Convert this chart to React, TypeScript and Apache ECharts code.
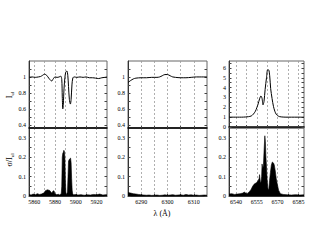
import React, { useEffect, useRef } from "react";
import * as echarts from "echarts";

// ---- Panel 1: Na D region ----
const naWave = [5855, 5858, 5861, 5864, 5866, 5868, 5870, 5872, 5874, 5876, 5877, 5878, 5880, 5882, 5884, 5885.5, 5886.5, 5887, 5887.5, 5888, 5888.7, 5889.5, 5890.3, 5891.4, 5892.3, 5893, 5893.8, 5894.8, 5895.5, 5896.3, 5897.2, 5898.5, 5901, 5904, 5907, 5910, 5913, 5916, 5919, 5922, 5925, 5928, 5930];
const naFlux = [0.995, 1.0, 0.995, 1.0, 1.005, 1.02, 1.035, 1.02, 0.985, 0.955, 0.95, 0.97, 1.0, 0.995, 1.0, 1.01, 0.97, 0.75, 0.6, 0.66, 0.86, 0.99, 1.06, 1.075, 1.02, 0.88, 0.72, 0.66, 0.72, 0.9, 0.99, 1.0, 0.995, 1.0, 0.995, 1.0, 0.99, 0.99, 0.985, 0.98, 0.99, 0.995, 1.0];
const naSigWave = [5855, 5857, 5859, 5861, 5863, 5865, 5867, 5869, 5870, 5871, 5872, 5873, 5874, 5875, 5876, 5877, 5878, 5879, 5880, 5881, 5882, 5883, 5884, 5885, 5886, 5886.5, 5887, 5887.5, 5888, 5888.5, 5889, 5889.5, 5890, 5890.5, 5891, 5891.5, 5892, 5892.5, 5893, 5893.5, 5894, 5894.5, 5895, 5895.5, 5896, 5896.5, 5897, 5898, 5900, 5902, 5905, 5908, 5911, 5914, 5917, 5920, 5923, 5926, 5929, 5930];
const naSigma = [0.008, 0.005, 0.01, 0.006, 0.012, 0.008, 0.01, 0.015, 0.02, 0.028, 0.03, 0.032, 0.03, 0.028, 0.02, 0.015, 0.025, 0.027, 0.012, 0.008, 0.006, 0.01, 0.005, 0.008, 0.012, 0.05, 0.2, 0.22, 0.225, 0.235, 0.23, 0.2, 0.08, 0.015, 0.008, 0.01, 0.02, 0.1, 0.18, 0.185, 0.19, 0.19, 0.195, 0.17, 0.09, 0.03, 0.01, 0.006, 0.008, 0.005, 0.007, 0.004, 0.006, 0.005, 0.008, 0.006, 0.01, 0.005, 0.007, 0.006];
const naGridLines = [5860, 5870, 5880, 5890, 5900, 5910, 5920];
const naTickLabels = [5860, 5880, 5900, 5920];

// ---- Panel 2: [O I] 6300 region ----
const oiWave = [6285, 6286, 6287, 6288, 6290, 6292, 6294, 6296, 6297, 6298, 6299, 6300, 6301, 6302, 6303, 6305, 6307, 6309, 6311, 6313, 6315];
const oiFlux = [0.93, 0.955, 0.975, 0.985, 0.99, 0.99, 0.995, 0.995, 1.0, 1.015, 1.03, 1.03, 1.015, 1.0, 0.995, 0.99, 0.99, 0.995, 1.0, 1.0, 1.0];
const oiSigWave = [6285, 6286, 6287, 6288, 6289, 6290, 6291, 6292, 6293, 6294, 6295, 6296, 6297, 6298, 6299, 6300, 6301, 6302, 6303, 6304, 6305, 6306, 6307, 6308, 6309, 6310, 6311, 6312, 6313, 6314, 6315];
const oiSigma = [0.018, 0.015, 0.012, 0.01, 0.008, 0.006, 0.005, 0.004, 0.005, 0.003, 0.004, 0.005, 0.003, 0.004, 0.006, 0.004, 0.005, 0.007, 0.004, 0.005, 0.006, 0.004, 0.008, 0.005, 0.006, 0.004, 0.005, 0.003, 0.004, 0.005, 0.004];
const oiGridLines = [6290, 6295, 6300, 6305, 6310];
const oiTickLabels = [6290, 6300, 6310];

// ---- Panel 3: H-alpha region ----
const haWave = [6535, 6538, 6541, 6544, 6547, 6549, 6551, 6552.5, 6554, 6555, 6556, 6557, 6558, 6558.8, 6559.5, 6560.2, 6561, 6562, 6562.8, 6563.5, 6564.3, 6565, 6566, 6567, 6568, 6569, 6570, 6571.5, 6573, 6576, 6580, 6584, 6589];
const haFlux = [1.0, 1.0, 1.0, 1.0, 1.02, 1.05, 1.12, 1.3, 1.6, 1.95, 2.35, 2.85, 3.15, 2.9, 2.25, 2.6, 3.8, 5.0, 5.8, 5.8, 5.2, 3.9, 2.9, 2.1, 1.6, 1.3, 1.15, 1.05, 1.02, 1.0, 1.0, 1.0, 1.0];
const haSigWave = [6535, 6537, 6539, 6541, 6543, 6545, 6546, 6547, 6548, 6549, 6550, 6551, 6552, 6553, 6554, 6555, 6556, 6556.7, 6557, 6557.5, 6558, 6558.5, 6558.8, 6559.3, 6559.8, 6560.3, 6560.8, 6561.2, 6561.6, 6562, 6562.5, 6563, 6563.6, 6564.2, 6564.8, 6565.5, 6566.2, 6567, 6567.6, 6568.3, 6569, 6569.8, 6570.7, 6572, 6574, 6577, 6580, 6583, 6586, 6589];
const haSigma = [0.01, 0.012, 0.008, 0.01, 0.012, 0.015, 0.02, 0.015, 0.012, 0.018, 0.025, 0.035, 0.05, 0.06, 0.065, 0.07, 0.08, 0.09, 0.11, 0.075, 0.07, 0.1, 0.165, 0.14, 0.16, 0.24, 0.31, 0.28, 0.2, 0.15, 0.08, 0.04, 0.03, 0.08, 0.12, 0.16, 0.175, 0.17, 0.16, 0.13, 0.09, 0.06, 0.03, 0.012, 0.008, 0.006, 0.005, 0.007, 0.005, 0.006];
const haGridLines = [6540, 6547.5, 6555, 6562.5, 6570, 6577.5, 6585];
const haTickLabels = [6540, 6555, 6570, 6585];

// ---- y ticks ----
const fluxLabels = [0.4, 0.6, 0.8, 1];
const fluxTicks = [0.4, 0.5, 0.6, 0.7, 0.8, 0.9, 1, 1.1];
const haFluxLabels = [0, 1, 2, 3, 4, 5, 6];
const haFluxTicks = [0, 0.5, 1, 1.5, 2, 2.5, 3, 3.5, 4, 4.5, 5, 5.5, 6, 6.5];
const sigmaLabels = [0, 0.1, 0.2, 0.3];
const sigmaTicks = [0, 0.05, 0.1, 0.15, 0.2, 0.25, 0.3];

const FONT = "'Liberation Serif', 'DejaVu Serif', serif";

export default function App() {
  const ref = useRef<HTMLDivElement>(null);
  useEffect(() => {
    if (!ref.current) return;
    const chart = echarts.init(ref.current, undefined, { renderer: "svg" });

    const panels = [
      { left: 29, width: 78, xMin: 5855, xMax: 5930, grid: naGridLines, labels: naTickLabels,
        w: naWave, f: naFlux, sw: naSigWave, s: naSigma,
        yMin: 0.36, yMax: 1.2, yLabels: fluxLabels, yTicks: fluxTicks },
      { left: 128, width: 79, xMin: 6285, xMax: 6315, grid: oiGridLines, labels: oiTickLabels,
        w: oiWave, f: oiFlux, sw: oiSigWave, s: oiSigma,
        yMin: 0.36, yMax: 1.2, yLabels: fluxLabels, yTicks: fluxTicks },
      { left: 229, width: 75, xMin: 6535, xMax: 6589, grid: haGridLines, labels: haTickLabels,
        w: haWave, f: haFlux, sw: haSigWave, s: haSigma,
        yMin: -0.1, yMax: 6.7, yLabels: haFluxLabels, yTicks: haFluxTicks },
    ];

    const grids: any[] = [];
    const xAxes: any[] = [];
    const yAxes: any[] = [];
    const series: any[] = [];
    const labelStyle = { color: "#000", fontFamily: FONT, fontSize: 6 };
    const plain = (v: number) => String(v);
    const dashed = { show: true, lineStyle: { color: "#9a9a9a", type: [2, 2], width: 0.8 } };

    panels.forEach((p, i) => {
      const gu = 2 * i;
      const gl = 2 * i + 1;
      grids.push({ left: p.left, width: p.width, top: 61, height: 67, show: true, borderColor: "#666", borderWidth: 1, containLabel: false, outerBoundsMode: "none" });
      grids.push({ left: p.left, width: p.width, top: 128, height: 68, show: true, borderColor: "#666", borderWidth: 1, containLabel: false, outerBoundsMode: "none" });

      xAxes.push({
        type: "value", gridIndex: gu, min: p.xMin, max: p.xMax,
        axisLine: { show: true, lineStyle: { color: "#000", width: 1.5 } },
        axisTick: { show: true, inside: true, length: 2, customValues: p.grid, lineStyle: { color: "#444" } },
        axisLabel: { show: false },
        splitLine: dashed,
      });
      xAxes.push({
        type: "value", gridIndex: gl, min: p.xMin, max: p.xMax,
        axisLine: { show: true, lineStyle: { color: "#333", width: 1 } },
        axisTick: { show: true, inside: true, length: 2, customValues: p.grid, lineStyle: { color: "#444" } },
        axisLabel: { show: true, customValues: p.labels, margin: 3, formatter: plain, ...labelStyle },
        splitLine: dashed,
      });

      const yCommon = (gridIndex: number, min: number, max: number, ticks: number[], labels: number[], pos: string, showLab: boolean) => ({
        type: "value", gridIndex, min, max, position: pos,
        axisLine: { show: pos === "left", lineStyle: { color: "#333", width: 1 } },
        axisTick: { show: true, inside: true, length: 2.5, customValues: ticks, lineStyle: { color: "#444" } },
        axisLabel: { show: showLab, customValues: labels, margin: 3, formatter: plain, ...labelStyle },
        splitLine: { show: false },
      });
      const yuIdx = yAxes.length;
      yAxes.push(yCommon(gu, p.yMin, p.yMax, p.yTicks, p.yLabels, "left", true));
      yAxes.push(yCommon(gu, p.yMin, p.yMax, p.yTicks, p.yLabels, "right", false));
      const ylIdx = yAxes.length;
      yAxes.push(yCommon(gl, 0, 0.35, sigmaTicks, sigmaLabels, "left", true));
      yAxes.push(yCommon(gl, 0, 0.35, sigmaTicks, sigmaLabels, "right", false));

      series.push({
        type: "line", xAxisIndex: gu, yAxisIndex: yuIdx, showSymbol: false, symbol: "none",
        smooth: 0.3, lineStyle: { color: "#000", width: 1 },
        data: p.w.map((x, k) => [x, p.f[k]]),
        z: 3,
      });
      series.push({
        type: "line", xAxisIndex: gl, yAxisIndex: ylIdx, showSymbol: false, symbol: "none",
        lineStyle: { color: "#000", width: 0.6 }, areaStyle: { color: "#000", opacity: 1 },
        data: p.sw.map((x, k) => [x, p.s[k]]),
        z: 3,
      });
    });

    chart.setOption({
      animation: false,
      backgroundColor: "#fff",
      grid: grids,
      xAxis: xAxes,
      yAxis: yAxes,
      series,
      graphic: [
        {
          type: "text", x: 9.5, y: 95, rotation: Math.PI / 2,
          style: {
            text: "{a|I}{s|ul}", align: "center", verticalAlign: "middle",
            rich: {
              a: { fontFamily: FONT, fontSize: 8, fill: "#000", lineHeight: 10 },
              s: { fontFamily: FONT, fontSize: 5, fill: "#000", lineHeight: 10, verticalAlign: "bottom", padding: [4, 0, 0, 0] },
            },
          },
        },
        {
          type: "text", x: 9.5, y: 160, rotation: Math.PI / 2,
          style: {
            text: "{a|σ/I}{s|ul}", align: "center", verticalAlign: "middle",
            rich: {
              a: { fontFamily: FONT, fontSize: 8, fill: "#000", lineHeight: 10 },
              s: { fontFamily: FONT, fontSize: 5, fill: "#000", lineHeight: 10, verticalAlign: "bottom", padding: [4, 0, 0, 0] },
            },
          },
        },
        {
          type: "text", x: 162, y: 213,
          style: { text: "λ (Å)", fontFamily: FONT, fontSize: 8, fill: "#000", align: "center", verticalAlign: "middle" },
        },
      ],
    });
    return () => chart.dispose();
  }, []);
  return <div ref={ref} style={{ position: "fixed", left: 0, top: 0, width: 317, height: 245, background: "#fff" }} />;
}
